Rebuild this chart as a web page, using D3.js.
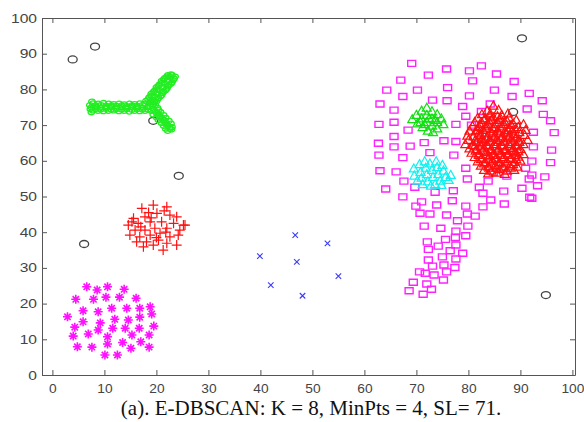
<!DOCTYPE html>
<html>
<head>
<meta charset="utf-8">
<script src="https://cdn.jsdelivr.net/npm/d3@7"></script>
<style>
  body { margin: 0; background: #fff; }
  .tick text { font-family: "Liberation Sans", Arial, sans-serif; font-size: 12.5px; fill: #444; }
  .caption { font-family: "Liberation Serif", "Times New Roman", serif; font-size: 21px; fill: #111; }
</style>
</head>
<body>
<svg id="chart" width="584" height="422"></svg>
<script>
// tick values
const xTicks = [0, 10, 20, 30, 40, 50, 60, 70, 80, 90, 100];
const yTicks = [0, 10, 20, 30, 40, 50, 60, 70, 80, 90, 100];
const caption = "(a). E-DBSCAN: K = 8, MinPts = 4, SL= 71.";

// noise points (black o)
const noise = [[3.9,88.4],[8.2,92],[19.4,71.2],[24.3,55.8],[6.1,36.7],[88.6,73.7],[90.3,94.3],[94.9,22.4]];

// green Y shape (o)
const greenY = [
  [7.2,75.6],[7.3,74.5],[7.6,76.6],[7.5,73.6],
  [7.8,76.1],[8.8,76],[9.8,76.2],[10.8,76],[11.8,75.9],[12.8,76],[13.8,75.8],[14.8,76],[15.8,75.9],[16.8,76.1],[17.8,76],
  [8.3,75.5],[9.3,75.6],[10.3,75.4],[11.3,75.5],[12.3,75.4],[13.3,75.5],[14.3,75.3],[15.3,75.5],[16.3,75.4],[17.3,75.6],
  [7.5,75],[8.4,75.1],[9.3,74.9],[10.3,75],[11.3,75.1],[12.3,74.9],[13.3,75],[14.3,74.9],[15.3,75.1],[16.3,75],[17.3,74.9],[18.3,75],
  [8.3,74.5],[9.3,74.4],[10.3,74.6],[11.3,74.4],[12.3,74.5],[13.3,74.4],[14.3,74.5],[15.3,74.3],[16.3,74.5],[17.3,74.4],
  [7.8,74.1],[8.8,74],[9.8,73.9],[10.8,74],[11.8,74.1],[12.8,73.9],[13.8,74],[14.8,73.8],[15.8,74],[16.8,73.9],[17.8,74],
  [18.6,76.2],[19.2,77],[19.6,78],[20.2,78.8],[20.6,79.8],[21.2,80.6],[21.6,81.6],[22.2,82.4],[22.6,83.4],[23,84],
  [18,76.8],[18.6,77.8],[19,78.8],[19.6,79.6],[20,80.6],[20.6,81.4],[21,82.4],[21.6,83.2],[22.2,84],
  [19.4,75.8],[20,76.6],[20.4,77.6],[21,78.4],[21.4,79.4],[22,80.2],[22.4,81.2],[23,82],[23.4,83],
  [18.4,77.2],[19,78.2],[19.4,79.2],[20,80],[20.4,81],[21,81.8],[21.4,82.8],[22,83.6],[22.8,84.2],
  [19.6,76.4],[20.2,77.2],[20.8,78.1],[21.2,79],[21.8,79.8],[22.2,80.8],[22.8,81.6],[23.2,82.6],[23.6,83.6],
  [19.8,73.8],[20.4,73],[20.8,72.2],[21.4,71.4],[21.8,70.6],[22.2,69.8],[22.6,69],
  [19.4,73],[20,72.2],[20.4,71.4],[21,70.6],[21.4,69.8],[21.8,69],[22.2,68.4],
  [20.4,74.2],[20.8,73.6],[21.4,72.8],[21.8,72],[22.4,71.2],[22.8,70.4],[23,69.4],
  [20.1,73.4],[20.6,72.6],[21.1,71.8],[21.6,71],[22,70.2],[22.5,69.4],[22.9,68.8],
  [18.8,75.2],[19.4,74.6],[19.8,75.6],[19,74],[18.4,74.4],[19.2,75.8],[18.8,76.6],[20.2,74.8]
];

// red plus cluster (+)
const redPlus = [
  [17.2,46.7],[19.4,47.6],[22,47.1],[15.6,43.9],[17.8,44.3],[20.1,45.3],[22.6,44.8],[23.9,44.3],
  [14.6,42],[16.5,42.5],[18.8,42.9],[21,42.9],[23.3,42.5],[25.5,42],[15.9,40.6],[17.8,40.6],
  [19.7,41.1],[22,41.1],[24.5,40.6],[14.9,39.2],[16.8,38.7],[18.8,39.2],[20.7,39.7],[22.6,38.7],
  [24.2,39.2],[16.2,37.3],[18.1,37.3],[20.4,37.8],[22,36.9],[23.9,36.4],[19.4,36.4],[17.5,35.9],
  [21.3,35],[18.5,45.5],[21.5,46],[19,44],[21.8,40],[17,41.5],[20,38.5],[15.3,42.9],[25.2,42]
];

// magenta star cluster (*)
const magentaStar = [
  [6.6,24.7],[8.6,23.8],[10.6,24.7],[13.8,24],[4.5,21.2],[7.9,21.2],[10.3,21.8],[12.9,21.8],[16.1,21.5],
  [5.9,18],[8.8,17.7],[11.4,18.7],[14.3,18.7],[16.8,18.7],[18.8,19.1],[2.9,16.3],[5.9,14.9],[9.2,14.6],
  [12,15.6],[14.6,15.4],[16.8,16.2],[19.1,17.1],[4.3,13.4],[8.8,12.6],[11.6,13.1],[14,13.1],[16.7,13.1],
  [19.5,13.7],[4,10.9],[6.9,11.5],[10.6,10.7],[15.3,11.2],[18.6,11.2],[4.8,7.9],[7.6,7.8],[10.6,8.7],
  [13.5,9.1],[15.1,7.5],[17,9.3],[18.6,7.8],[10.1,5.6],[12.5,5.6]
];

// blue x points
const blueX = [[39.9,33.3],[42,25.2],[46.7,39.2],[47,31.7],[48.1,22.2],[52.9,36.9],[55,27.7]];

// magenta squares (big teardrop cluster)
const magentaSquare = [
  [69.1,87.3],[75.8,85.7],[80.2,85.2],[82.5,86.6],[72.3,84],[85.4,84.3],[67,82.6],[80.8,82.4],[88.8,82.2],
  [64.3,79.8],[70.2,79.8],[76,80.5],[85,79.8],[91.7,78.9],[67.4,78],[80.2,78.2],[88.4,78],[63,75.9],
  [73.1,77],[75.9,76.8],[94.2,76.8],[65.7,74.2],[78.9,75.2],[82.5,73.8],[84.2,75.9],[91.3,74.5],[94.4,73],
  [62.8,70.2],[65.7,70.8],[68.4,68.6],[77.6,70.2],[79.5,72.5],[80.6,70],[95.8,71.2],[92.5,68],[96.5,67.9],
  [65.7,66.8],[62.7,64.9],[65.7,63.9],[68.8,64.1],[71.5,65.1],[75.3,65.6],[77.6,65.4],[92.5,63.9],[96,63],
  [62.8,61.6],[67.4,60.9],[72.6,62.3],[77.2,61.6],[95.8,59.5],[92.2,59.9],[63,57.2],[66.1,56.9],[79.5,57.9],
  [84.8,56.7],[87.4,55.7],[91,57.9],[92.2,56],[94.7,55.5],[67.6,54.3],[79.8,54.9],[83.8,54.3],[91.7,54.9],
  [64.1,52.1],[69.7,52.6],[73.6,51.2],[77.1,51.6],[82.1,52.6],[86.8,51.5],[90.3,52.3],[93.3,53],
  [67.4,49.9],[82.8,50.9],[91.8,49.8],[71,48.5],[69.9,47.3],[73.9,47.6],[76.9,48.8],[79.5,47.3],
  [82.8,47.1],[84.3,49],[86.9,47.9],[92.2,49.5],[70.7,45.3],[72.6,45.1],[75.8,44.8],[79.8,45.1],
  [81.3,44.5],[77.9,43.2],[71.5,41.7],[74.7,41.1],[79.9,41.7],[77.6,40.3],[75.6,38],[77.5,38.5],
  [79.5,39],[72.1,37.3],[74.2,36.1],[77.6,36.4],[72.3,35.2],[76.5,34.8],[78.9,34.1],[75,33.1],
  [77.6,32.5],[72.3,32.2],[73.1,30.5],[75.3,30.8],[77.4,30.1],[70.6,28.9],[71.7,28.5],[73.4,28],
  [75.8,28.9],[75.2,26.6],[69.4,26],[72,25.5],[68.6,23.6],[72.9,24],[71.3,22.6]
];

// green triangles
const greenTri = [
  [69.2,71.8],[70,73],[70.2,70.6],[71,74.2],[71,72],[71.2,69.6],[72,75],[72,73],[72,71],[72.2,68.6],
  [73,74],[73,72],[73,70],[73.2,68.2],[74,73.2],[74,71],[74,69.2],[74.8,72],[75.2,70.4],[70.8,71],
  [72.5,72],[73.6,71.6],[71.6,70.4]
];

// cyan triangles
const cyanTri = [
  [69.5,58],[69.6,56],[70.2,54.6],[70.6,59.2],[70.8,57],[71,55.4],[71.6,60],[71.8,58.2],[72,56.4],
  [72.2,54.4],[72.6,59.4],[73,57.6],[73.2,55.6],[73.6,53.6],[73.8,60],[74,58.4],[74.2,56.4],[74.6,54.6],
  [75,59],[75.2,57.4],[75.6,55.6],[76.2,54.8],[76.6,56.2],[71.2,53.6],[72.8,53.2],[74.8,53.4]
];

// red triangles (dense blob, outer ring)
const redTri = [
  [84.8,75.6],[83.6,74.2],[85.8,74.4],[82.6,73.2],[84.2,73.4],[86.4,73],[87.6,73.4],
  [81.8,72.2],[83.2,72],[84.8,72.3],[86.2,72],[87.8,72.2],[89.2,71.6],
  [81.2,71],[82.6,70.8],[84,71.2],[85.6,70.9],[87,71],[88.6,70.6],[90.6,70.4],
  [80.8,69.8],[82,69.6],[83.4,70],[85,69.6],[86.4,69.8],[87.8,69.4],[89.6,69.6],
  [80.2,68.6],[81.4,68.4],[82.8,68.8],[84.2,68.4],[85.6,68.6],[87,68.3],[88.4,68.6],[89.8,68.2],[91,68.8],
  [79.8,67.2],[81,67],[82.4,67.4],[83.8,67],[85.2,67.2],[86.6,67],[88,67.2],[89.4,67],[90.8,67.4],
  [80,66],[81.3,65.8],[82.6,66.2],[84,65.8],[85.4,66],[86.8,65.8],[88.2,66.1],[89.6,65.8],[91.4,66],
  [79.4,64.8],[80.8,64.6],[82.2,65],[83.6,64.6],[85,64.8],[86.4,64.6],[87.8,64.9],[89.2,64.6],[90.6,64.8],
  [80.2,63.6],[81.6,63.4],[83,63.8],[84.4,63.4],[85.8,63.6],[87.2,63.4],[88.6,63.7],[90,63.4],
  [80.6,62.4],[82,62.2],[83.4,62.6],[84.8,62.2],[86.2,62.4],[87.6,62.2],[89,62.5],[90.6,62],
  [81.2,61.2],[82.6,61],[84,61.4],[85.4,61],[86.8,61.2],[88.2,61],[89.6,61.3],
  [81.8,60],[83.2,59.8],[84.6,60.2],[86,59.8],[87.4,60],[88.8,59.8],[90,60.2],
  [82.4,58.8],[83.8,58.6],[85.2,59],[86.6,58.6],[88,58.8],[89.4,58.5],
  [83,57.6],[84.4,57.4],[86,57.8],[87.4,57.4],[88.8,57.6],
  [83.8,56.6],[85.4,56.8],[87,56.5]
];

// red triangles (dense core)
const redTriCore = [
  [84.2,72.8],[85.6,72.6],[83,71.6],[84.4,71.6],[86,71.6],[87.4,71.4],
  [82.2,70.4],[83.8,70.4],[85.2,70.4],[86.8,70.4],[88.2,70.2],
  [81.8,68.8],[83.4,69.2],[84.8,69],[86.2,69.2],[87.6,68.8],[89,69],
  [82,67.8],[83.2,67.8],[84.6,67.8],[86,67.8],[87.4,67.8],[88.8,67.6],
  [82,66.6],[83.4,66.4],[84.8,66.6],[86.2,66.4],[87.6,66.6],[89,66.4],
  [81.6,65.4],[82.8,65.4],[84.2,65.4],[85.6,65.4],[87,65.4],[88.4,65.4],[89.8,65.4],
  [81.2,64.2],[82.4,64.2],[83.8,64.2],[85.2,64.2],[86.6,64.2],[88,64.2],[89.4,64.2],
  [81.4,63],[82.8,63],[84.2,63],[85.6,63],[87,63],[88.4,63],[89.6,62.8],
  [82,61.8],[83.4,61.8],[84.8,61.8],[86.2,61.8],[87.6,61.8],[89,61.8],
  [82.4,60.6],[83.8,60.6],[85.2,60.6],[86.6,60.6],[88,60.6],[89.2,60.6],
  [83,59.4],[84.4,59.4],[85.8,59.4],[87.2,59.4],[88.6,59.2],
  [84,58.2],[85.4,58.2],[86.8,58.2],[88.2,58.2]
];

var svg = d3.select("#chart");

var x = d3.scaleLinear().domain([-2, 100.5]).range([42, 575]);
var y = d3.scaleLinear().domain([0, 100]).range([375, 18]);

// axes, ticks pointing inward like matlab
var xAxisG = svg.append("g")
    .attr("transform", "translate(0,375)")
    .call(d3.axisBottom(x).tickValues(xTicks).tickSizeInner(-5).tickSizeOuter(0).tickPadding(9));
svg.append("g")
    .attr("transform", "translate(0,18)")
    .call(d3.axisTop(x).tickValues(xTicks).tickSizeInner(-5).tickSizeOuter(0).tickFormat(""));
var yAxisG = svg.append("g")
    .attr("transform", "translate(42,0)")
    .call(d3.axisLeft(y).tickValues(yTicks).tickSizeInner(-5).tickSizeOuter(0).tickPadding(4));
svg.append("g")
    .attr("transform", "translate(575,0)")
    .call(d3.axisRight(y).tickValues(yTicks).tickSizeInner(-5).tickSizeOuter(0).tickFormat(""));

svg.selectAll(".domain").attr("stroke", "#555");
svg.selectAll(".tick line").attr("stroke", "#555");
// the picture is a bit stretched sideways, so are the labels
yAxisG.selectAll(".tick text").attr("transform", "scale(1.25,1)");
xAxisG.selectAll(".tick text").attr("transform", "scale(1.1,1)");

// marker paths
function markerPath(type, w, h) {
  var a = w / 2, b = h / 2;
  if (type === "plus") return `M${-a},0H${a}M0,${-b}V${b}`;
  if (type === "cross") return `M${-a},${-b}L${a},${b}M${-a},${b}L${a},${-b}`;
  if (type === "star") return `M${-a},0H${a}M0,${-b}V${b}M${-a*0.7},${-b*0.7}L${a*0.7},${b*0.7}M${-a*0.7},${b*0.7}L${a*0.7},${-b*0.7}`;
  if (type === "tri") return `M0,${-b}L${a},${b}L${-a},${b}Z`;
  if (type === "square") return `M${-a},${-b}H${a}V${b}H${-a}Z`;
  // ellipse for circle
  return `M${-a},0A${a},${b} 0 1,0 ${a},0A${a},${b} 0 1,0 ${-a},0Z`;
}

function drawSeries(data, type, color, w, h, sw) {
  svg.append("g")
    .selectAll("path")
    .data(data)
    .enter().append("path")
      .attr("transform", d => `translate(${x(d[0])},${y(d[1])})`)
      .attr("d", markerPath(type, w, h))
      .attr("fill", "none")
      .attr("stroke", color)
      .attr("stroke-width", sw);
}

drawSeries(noise, "circle", "#444", 9, 7, 1.3);
drawSeries(greenY, "circle", "#22ee22", 6.5, 5, 1.3);
drawSeries(redPlus, "plus", "#ff1010", 10, 10, 1.2);
drawSeries(magentaStar, "star", "#ff10ff", 9, 9, 1.6);
drawSeries(blueX, "cross", "#3a3aff", 5.5, 5.5, 1.1);
drawSeries(magentaSquare, "square", "#ff20ff", 8, 6, 1.4);
drawSeries(greenTri, "tri", "#10e010", 9, 8, 1.2);
drawSeries(cyanTri, "tri", "#10f0f0", 9, 8, 1.2);
drawSeries(redTri, "tri", "#ff1010", 9, 8, 1.2);
drawSeries(redTriCore, "tri", "#ff1010", 9, 8, 1.2);

svg.append("text")
    .attr("class", "caption")
    .attr("x", 311)
    .attr("y", 415)
    .attr("text-anchor", "middle")
    .text(caption);
</script>
</body>
</html>
